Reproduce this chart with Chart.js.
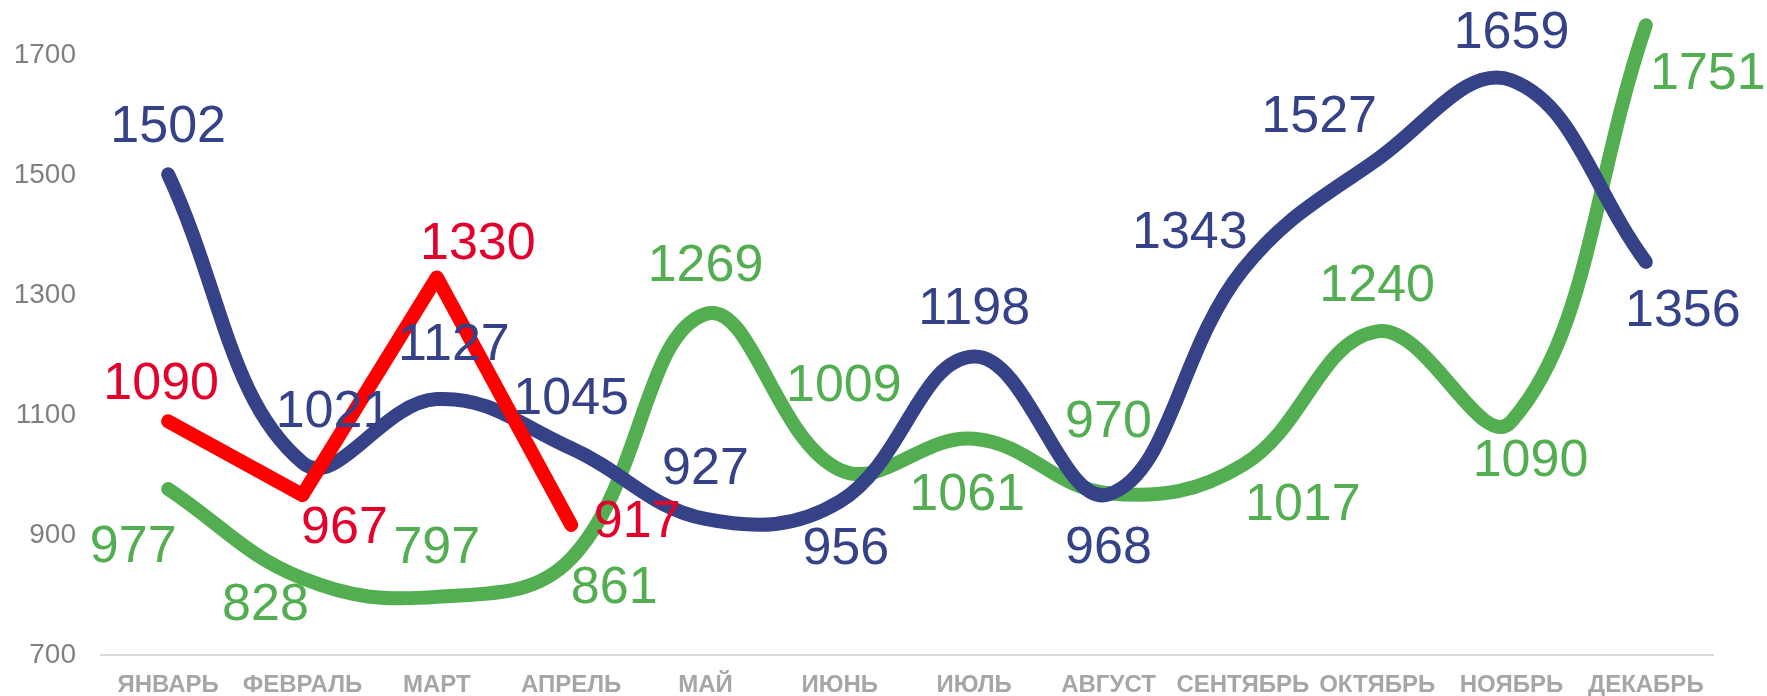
<!DOCTYPE html>
<html><head><meta charset="utf-8">
<script src="https://cdn.jsdelivr.net/npm/chart.js@4/dist/chart.umd.min.js"></script>
<style>html,body{margin:0;padding:0;background:#fff;overflow:hidden}#wrap{width:1767px;height:696px;position:relative}</style>
</head><body><div id="wrap"><canvas id="c"></canvas></div>
<script>
const months = ["ЯНВАРЬ","ФЕВРАЛЬ","МАРТ","АПРЕЛЬ","МАЙ","ИЮНЬ","ИЮЛЬ","АВГУСТ","СЕНТЯБРЬ","ОКТЯБРЬ","НОЯБРЬ","ДЕКАБРЬ"];
const blueValues = [1502,1021,1127,1045,927,956,1198,968,1343,1527,1659,1356];
const greenValues = [977,828,797,861,1269,1009,1061,970,1017,1240,1090,1751];
const redValues = [1090,967,1330,917];
const yTicks = [700,900,1100,1300,1500,1700];

const BLUE = '#354288', GREEN = '#52AE50', RED = '#FF0000', RED_LABEL = '#E3002B';

const labelOffsets = {
  red:   [[-7,-37],[42,34],[41,-33],[66,-2]],
  blue:  [[0,-47],[31,-50],[17,-53],[0,-49],[0,-49],[6,48],[0,-47],[0,54],[-53,-36],[-58,-42],[0,-47],[37,50]],
  green: [[-35,59],[-37,27],[0,-48],[43,30],[0,-47],[4,-83],[-7,57],[0,-71],[60,41],[0,-45],[19,40],[62,49]]
};

const labelPlugin = {
  id: 'pointLabels',
  afterDatasetsDraw(chart) {
    const ctx = chart.ctx;
    ctx.save();
    ctx.font = '52px "Liberation Sans", Arial, sans-serif';
    ctx.textAlign = 'center';
    ctx.textBaseline = 'middle';
    chart.data.datasets.forEach((ds, di) => {
      const meta = chart.getDatasetMeta(di);
      const offs = labelOffsets[ds.key];
      ctx.fillStyle = ds.labelColor;
      meta.data.forEach((pt, i) => {
        const o = offs[i] || [0, -48];
        ctx.fillText(String(ds.data[i]), pt.x + o[0], pt.y + o[1]);
      });
    });
    ctx.restore();
  }
};

new Chart(document.getElementById('c'), {
  type: 'line',
  data: {
    labels: months,
    datasets: [
      { key: 'red', data: redValues, borderColor: RED, labelColor: RED_LABEL, tension: 0, borderWidth: 14 },
      { key: 'blue', data: blueValues, borderColor: BLUE, labelColor: BLUE, tension: 0.4, borderWidth: 14 },
      { key: 'green', data: greenValues, borderColor: GREEN, labelColor: GREEN, tension: 0.4, borderWidth: 14 }
    ]
  },
  options: {
    responsive: true,
    maintainAspectRatio: false,
    animation: false,
    devicePixelRatio: 1,
    layout: { padding: { top: 0, right: 54, bottom: 0, left: 0 }, autoPadding: false },
    elements: {
      point: { radius: 0, hoverRadius: 0 },
      line: { borderCapStyle: 'round', borderJoinStyle: 'round', fill: false }
    },
    datasets: { line: { clip: false } },
    plugins: { legend: { display: false }, tooltip: { enabled: false } },
    scales: {
      x: {
        offset: true,
        grid: { display: false, drawTicks: false },
        border: { display: true, color: '#D9D9D9', width: 2 },
        ticks: { autoSkip: false, maxRotation: 0, padding: 16, color: '#A6A6A6',
                 font: { family: '"Liberation Sans", Arial, sans-serif', size: 24, weight: 'bold' } },
        afterFit(s) { s.height = 41; s.paddingLeft = 0; s.paddingRight = 0; }
      },
      y: {
        min: 700, max: 1793,
        grid: { display: false, drawTicks: false },
        border: { display: false },
        ticks: { padding: 25, color: '#808080', includeBounds: false,
                 callback: v => String(v),
                 font: { family: '"Liberation Sans", Arial, sans-serif', size: 28 } },
        afterBuildTicks(s) { s.ticks = yTicks.map(v => ({ value: v })); },
        afterFit(s) { s.width = 101; s.paddingTop = 0; s.paddingBottom = 0; }
      }
    }
  },
  plugins: [labelPlugin]
});
</script>
</body></html>
